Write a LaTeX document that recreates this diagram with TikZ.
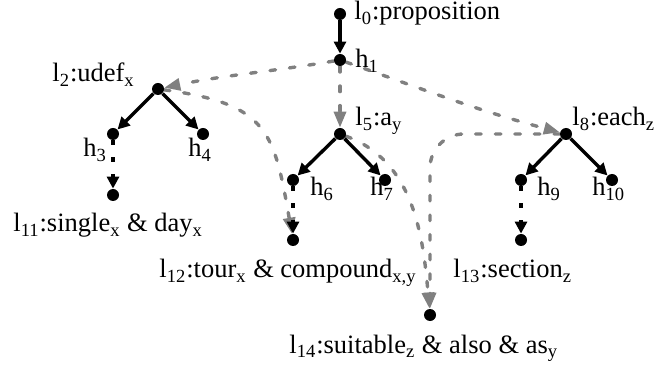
\documentclass[tikz,border=0pt]{standalone}
\usepackage{fontspec}
\setmainfont{Liberation Serif}
\usetikzlibrary{arrows.meta,backgrounds}
\definecolor{mrsGray}{HTML}{808080}

\begin{document}
\begin{tikzpicture}[x=0.5pt,y=-0.5pt,font=\fontsize{13.25}{15}\selectfont,
    dot/.style={circle,fill=black,inner sep=0pt,minimum size=6pt},
    lbl/.style={anchor=base west,inner sep=0pt},
    arr/.style={-{Triangle[length=6pt,width=6pt]},line width=1.7pt},
    qeq/.style={arr,dash pattern=on 2.5pt off 6pt},
    scp/.style={-{Triangle[length=8pt,width=6pt]},mrsGray,line width=1.7pt,
                line cap=round,dash pattern=on 2.8pt off 7pt}]
  \useasboundingbox (0,0) rectangle (656,367);
  % holes and labels
  \node[dot] (l0)  at (340,14)  {};
  \node[dot] (h1)  at (340,60)  {};
  \node[dot] (l2)  at (158,89)  {};
  \node[dot] (h3)  at (113,134) {};
  \node[dot] (h4)  at (203,134) {};
  \node[dot] (l5)  at (340,134) {};
  \node[dot] (h6)  at (293,180) {};
  \node[dot] (h7)  at (385,180) {};
  \node[dot] (l8)  at (566,134) {};
  \node[dot] (h9)  at (521,180) {};
  \node[dot] (h10) at (612,180) {};
  \node[dot] (l11) at (113,195) {};
  \node[dot] (l12) at (293,240) {};
  \node[dot] (l13) at (521,240) {};
  \node[dot] (l14) at (430,315) {};
  \node[lbl] (t0)  at (354,20)  {l\textsubscript{0}:proposition};
  \node[lbl] (t1)  at (355,68)  {h\textsubscript{1}};
  \node[lbl] (t2)  at (52,82)   {l\textsubscript{2}:udef\textsubscript{x}};
  \node[lbl] (t3)  at (83,157)  {h\textsubscript{3}};
  \node[lbl] (t4)  at (188,157) {h\textsubscript{4}};
  \node[lbl] (t5)  at (355,126) {l\textsubscript{5}:a\textsubscript{y}};
  \node[lbl] (t6)  at (310,196) {h\textsubscript{6}};
  \node[lbl] (t7)  at (370,196) {h\textsubscript{7}};
  \node[lbl] (t8)  at (572,126) {l\textsubscript{8}:each\textsubscript{z}};
  \node[lbl] (t9)  at (537,196) {h\textsubscript{9}};
  \node[lbl] (t10) at (592,196) {h\textsubscript{10}};
  \node[lbl] (t11) at (13,232)  {l\textsubscript{11}:single\textsubscript{x} \& day\textsubscript{x}};
  \node[lbl] (t12) at (159,278) {l\textsubscript{12}:tour\textsubscript{x} \& compound\textsubscript{x,y}};
  \node[lbl] (t13) at (453,278) {l\textsubscript{13}:section\textsubscript{z}};
  \node[lbl] (t14) at (289,353) {l\textsubscript{14}:suitable\textsubscript{z} \& also \& as\textsubscript{y}};
  \begin{scope}[on background layer]
    % scope constraints
    \draw[scp] (h1) .. controls (269,72) and (225,75) .. (l2);
    \draw[scp] (h1) -- (l5);
    \draw[scp] (h1) .. controls (428,91) and (476,110) .. (l8);
    \draw[scp] (l2) .. controls (268,104) and (274,131) .. (l12);
    \draw[scp] (l5) .. controls (414,161) and (423,236) .. (l14);
    \draw[scp,rounded corners=17pt] (l8) -| (l14);
    % tree
    \draw[arr] (l0) -- (h1);
    \foreach \a/\b in {l2/h3,l2/h4,l5/h6,l5/h7,l8/h9,l8/h10}
      \draw[arr] (\a) -- (\b);
    \draw[qeq] (h3) -- (l11); \draw[qeq] (h6) -- (l12); \draw[qeq] (h9) -- (l13);
  \end{scope}
\end{tikzpicture}
\end{document}
